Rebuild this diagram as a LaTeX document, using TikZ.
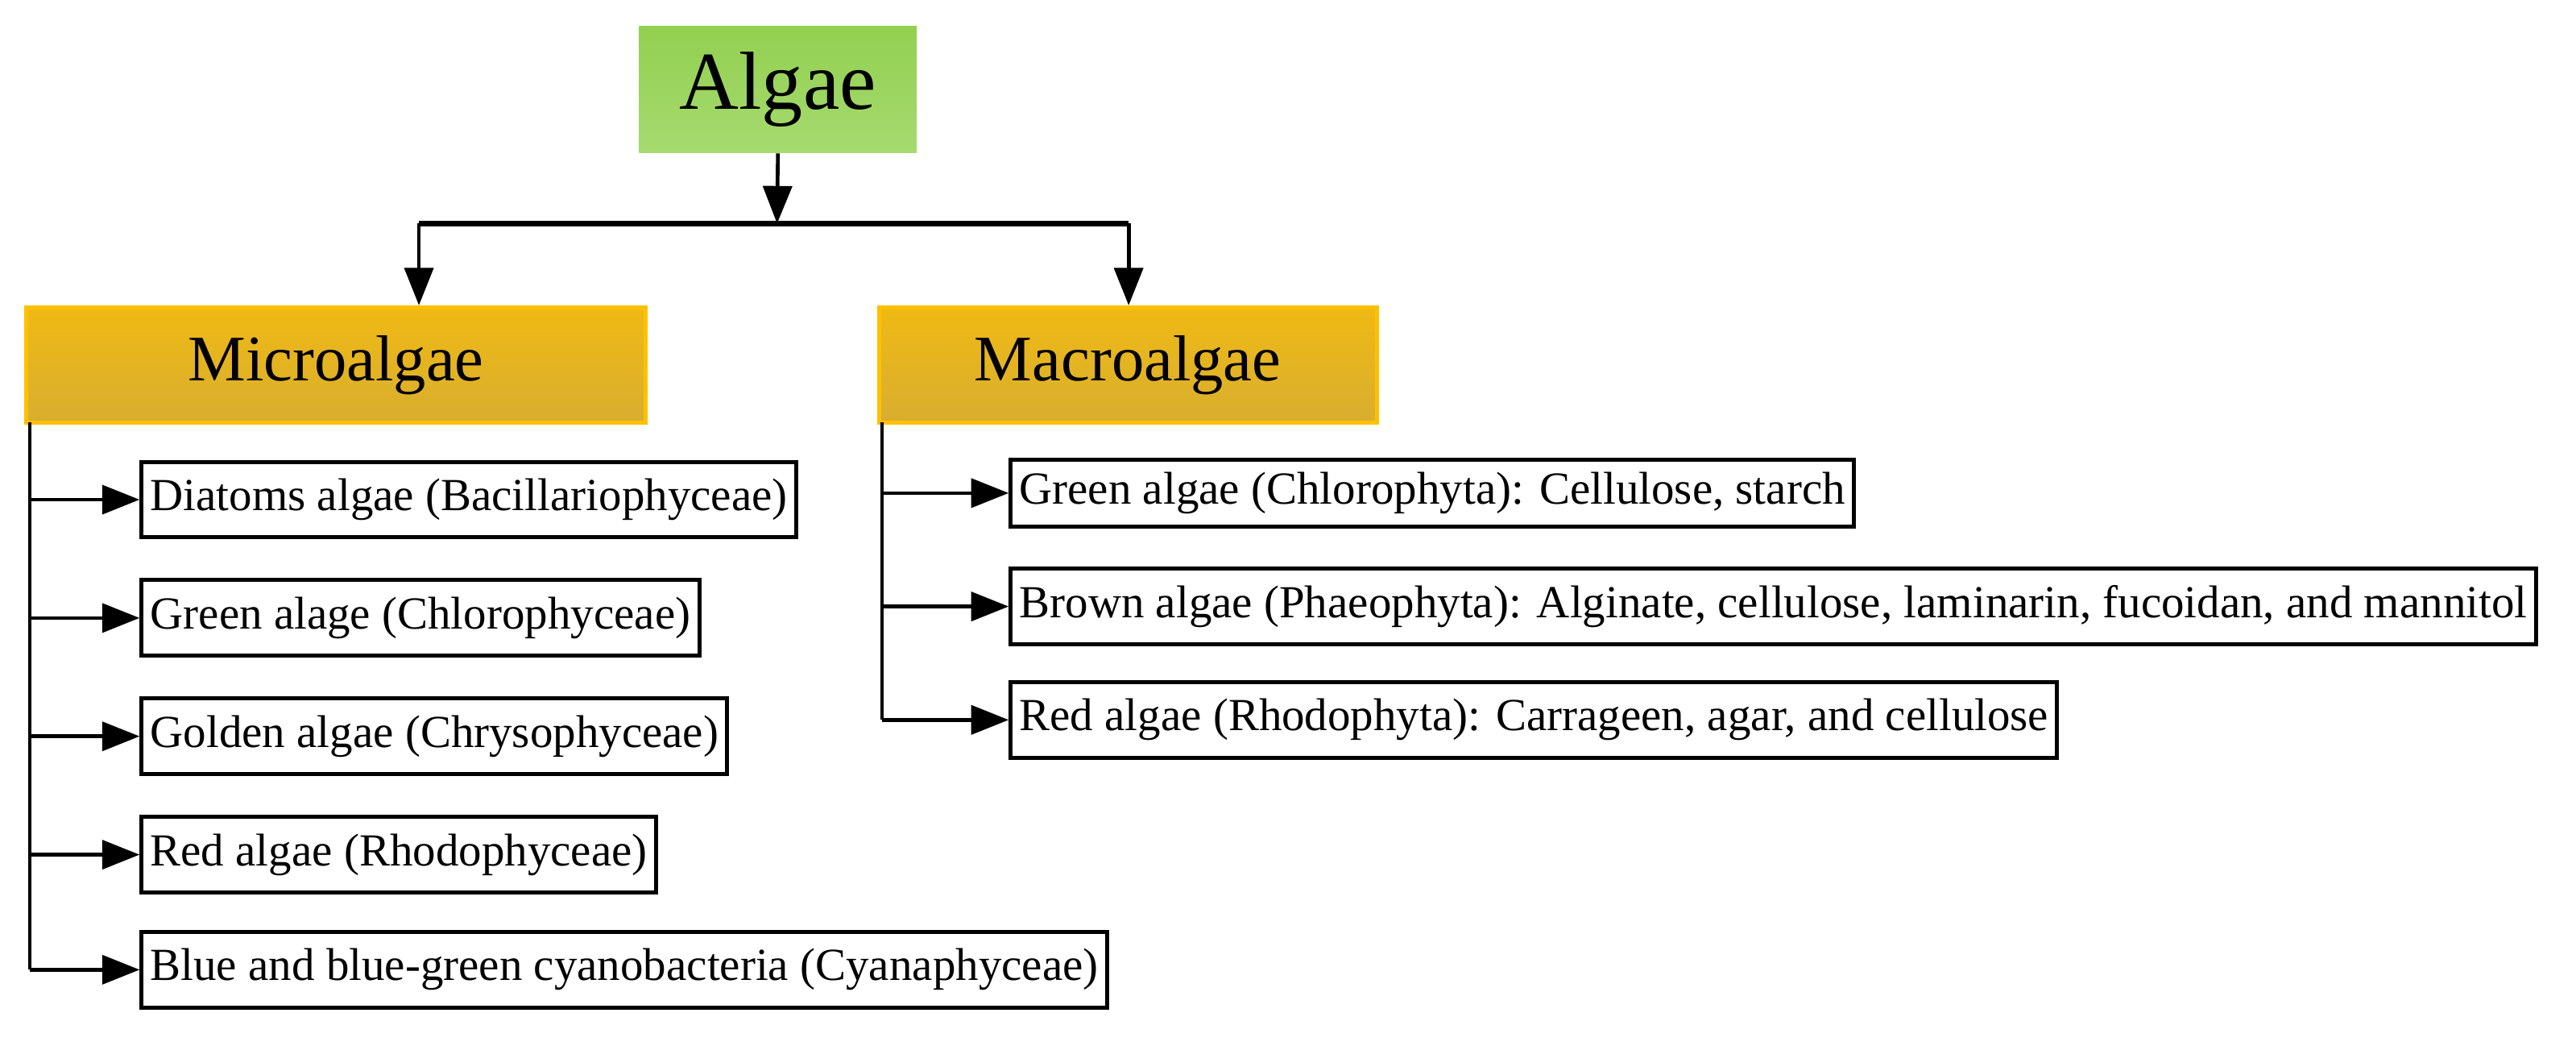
\documentclass[tikz,border=0pt]{standalone}
\usepackage{fontspec}
\setmainfont{Liberation Serif}
\usetikzlibrary{arrows.meta}
\definecolor{leafgreen}{HTML}{92D050}
\definecolor{paleleaf}{HTML}{A6DA70}
\definecolor{goldline}{HTML}{FFC000}
\definecolor{goldfill}{HTML}{D8AE30}
\tikzset{
    head/.style={draw=none,top color=leafgreen,bottom color=paleleaf,minimum width=3.38cm,minimum height=1.54cm,font=\fontsize{28.5}{32}\selectfont},
    group/.style={draw=goldline,line width=1.4pt,top color=goldline!60!goldfill,bottom color=goldfill,font=\fontsize{22.5}{24}\selectfont},
    item/.style={draw=black,line width=1.4pt,anchor=west,minimum height=0.92cm,inner xsep=3pt,font=\fontsize{15.9}{17}\selectfont},
    link/.style={-{Triangle[length=13pt,width=10pt]},black,line width=1.3pt},
}
\begin{document}
\begin{tikzpicture}[x=0.02cm,y=-0.02cm]
    \useasboundingbox (0,0) rectangle (1568,636);
    \node[head] (algae) at (473.5,54.5) {Algae};
    \node[group,minimum width=7.54cm,minimum height=1.4cm] (micro) at (204.5,222) {Microalgae};
    \node[group,minimum width=6.06cm,minimum height=1.4cm] (macro) at (686.5,222) {Macroalgae};
    \coordinate (split) at (473,136);
    \coordinate (mleft) at (255,136);
    \coordinate (mright) at (687,136);
    \draw [link](algae.south) -- (split);
    \draw [black,line width=1.8pt](mleft) -- (mright);
    \draw [link](mleft) -- (micro.north -| mleft);
    \draw [link](mright) -- (macro.north -| mright);
    % microalgae
    \node[item] (dia) at (85,304) {Diatoms algae (Bacillariophyceae)};
    \node[item] (chl) at (85,376) {Green alage (Chlorophyceae)};
    \node[item] (chr) at (85,448) {Golden algae (Chrysophyceae)};
    \node[item] (rho) at (85,520) {Red algae (Rhodophyceae)};
    \node[item] (cya) at (85,590) {Blue and blue-green cyanobacteria (Cyanaphyceae)};
    \coordinate (mtop) at (18,257);
    \coordinate (mend) at (18,590);
    \draw [black,line width=1.2pt](mtop) -- (mend);
    \foreach \n in {dia,chl,chr,rho,cya}
        \draw [link](\n.west -| mtop) -- (\n.west);
    % macroalgae
    \node[item,minimum height=0.82cm] (gre) at (614,300) {Green algae (Chlorophyta): Cellulose, starch};
    \node[item] (bro) at (614,369) {Brown algae (Phaeophyta): Alginate, cellulose, laminarin, fucoidan, and mannitol};
    \node[item] (red) at (614,438) {Red algae (Rhodophyta): Carrageen, agar, and cellulose};
    \coordinate (atop) at (537,257);
    \coordinate (aend) at (537,438);
    \draw [black,line width=1.2pt](atop) -- (aend);
    \foreach \n in {gre,bro,red}
        \draw [link](\n.west -| atop) -- (\n.west);
\end{tikzpicture}
\end{document}
